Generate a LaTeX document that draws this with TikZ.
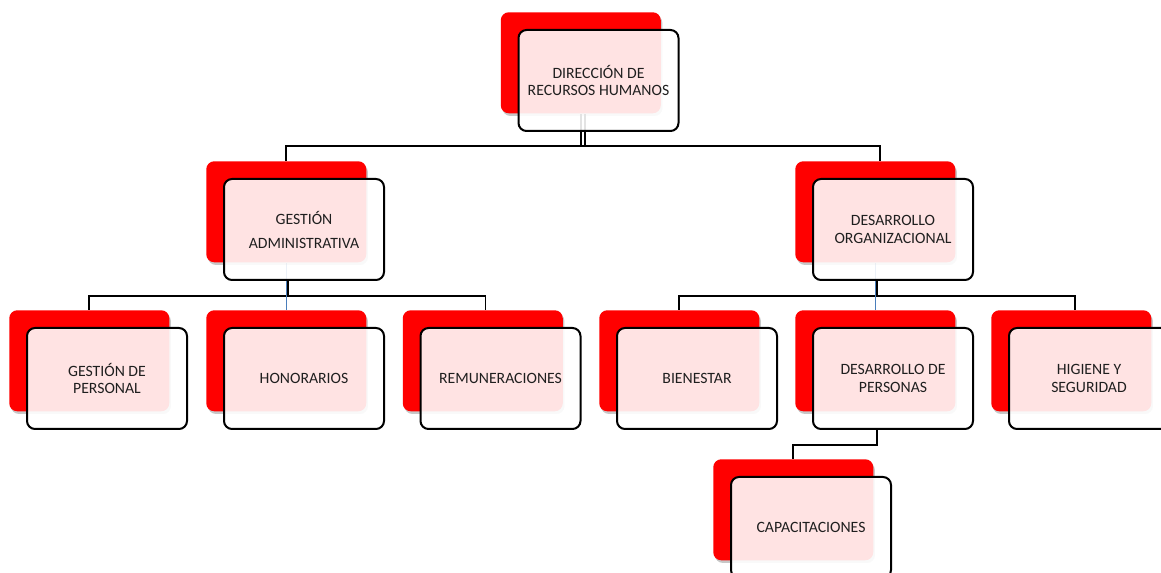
\documentclass[tikz,border=0pt]{standalone}
\usepackage{fontspec}
\setmainfont{Carlito}
\usetikzlibrary{shadows}
\pgfdeclarelayer{bg}
\pgfsetlayers{bg,main}
\definecolor{connblue}{HTML}{4A7EBB}
\definecolor{txt}{HTML}{1F1F1F}
\tikzset{
  redbox/.style={fill=red, rounded corners=6pt, minimum width=120pt, minimum height=75.75pt,
    anchor=north west, inner sep=0pt,
    drop shadow={shadow xshift=1.2pt, shadow yshift=-2pt, fill=black, opacity=0.22}},
  frontbox/.style={draw=black, line width=1.5pt, fill=white, fill opacity=0.89, text opacity=1,
    rounded corners=6pt, minimum width=120pt, minimum height=75.75pt, anchor=north west,
    inner sep=0pt, align=center, font=\fontsize{11.8pt}{13.4pt}\selectfont, text=txt},
  conn/.style={draw=black, line width=1.4pt},
  blueline/.style={draw=connblue, line width=1.1pt}
}
\newcommand\orgunit[4]{%
  \node[redbox] (#1R) at (#2,#3) {};
  \node[frontbox] (#1F) at (#2+17,#3+17) {#4};}
\begin{document}
\begin{tikzpicture}[x=0.75pt,y=-0.75pt]
\useasboundingbox (0,0) rectangle (1161,573);
\clip (0,0) rectangle (1161,573);
\orgunit{top}{500.5}{12}{DIRECCIÓN DE\\RECURSOS HUMANOS}
\orgunit{ga}{206}{161}{GESTIÓN\\[4.6pt]ADMINISTRATIVA}
\orgunit{do}{795}{161}{DESARROLLO\\ORGANIZACIONAL}
\orgunit{gp}{9}{310}{GESTIÓN DE\\PERSONAL}
\orgunit{ho}{206}{310}{HONORARIOS}
\orgunit{re}{402.5}{310}{REMUNERACIONES}
\orgunit{bi}{599}{310}{BIENESTAR}
\orgunit{dp}{795}{310}{DESARROLLO DE\\PERSONAS}
\orgunit{hs}{991}{310}{HIGIENE Y\\SEGURIDAD}
\orgunit{ca}{713}{459}{CAPACITACIONES}
\coordinate (bus1) at (583,146);
\coordinate (bus2) at (287,296);
\coordinate (bus3) at (877,296);
\begin{pgfonlayer}{bg}
  % level 1 -> level 2
  \draw[conn] (gaR.north) |- (bus1) -| ([xshift=3.75pt]doR.north);
  \draw[conn] ([xshift=0.4pt]topR.south) -- ([xshift=0.4pt]topR.south |- bus1);
  \draw[conn] ([xshift=3.4pt]topR.south) -- ([xshift=3.4pt]topR.south |- bus1);
  % level 2 left -> level 3
  \draw[conn] (gpR.north) |- (bus2) -| ([xshift=2pt]reR.north);
  \draw[blueline] (gaR.south) -- (hoR.north);
  \draw[conn] ([xshift=1.5pt]gaR.south |- gaF.south) -- ([xshift=1.5pt]gaR.south |- bus2);
  % level 2 right -> level 3
  \draw[conn] (biR.north) |- (bus3) -| ([xshift=3pt]hsR.north);
  \draw[blueline] (doR.south) -- (dpR.north);
  \draw[conn] ([xshift=1.5pt]doR.south |- doF.south) -- ([xshift=1.5pt]doR.south |- bus3);
  % desarrollo de personas -> capacitaciones
  \draw[conn] ([xshift=1.5pt]dpR.south |- dpF.south) -- ++(0,15) -| (caR.north);
\end{pgfonlayer}
\end{tikzpicture}
\end{document}
